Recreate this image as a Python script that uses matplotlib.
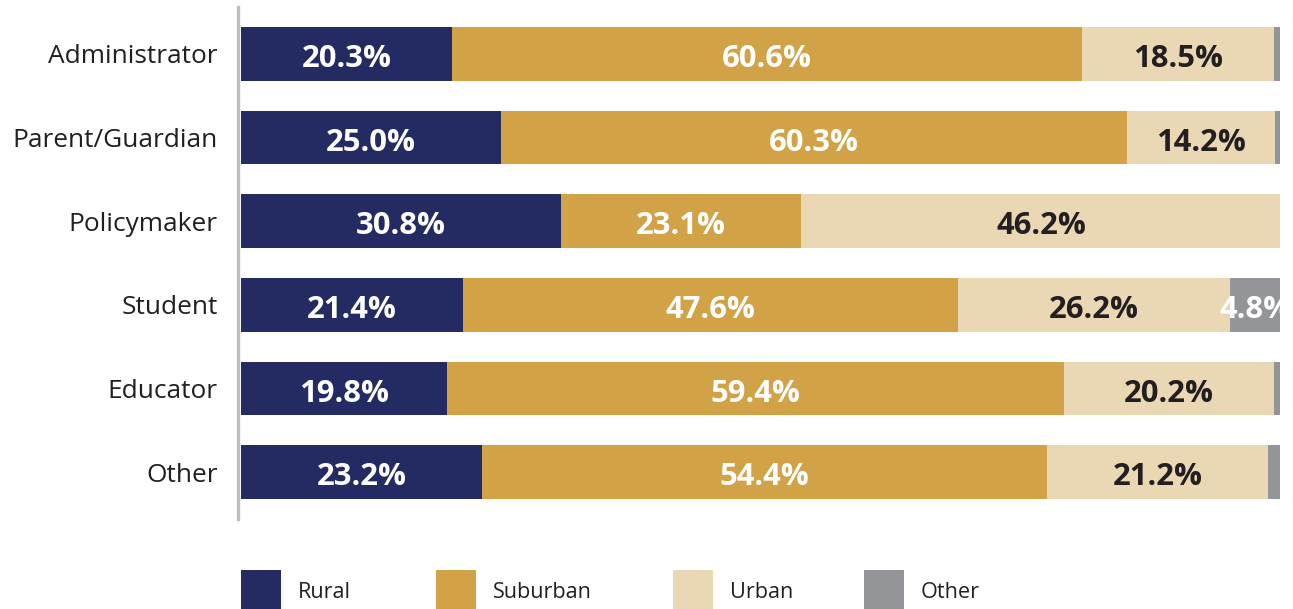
import matplotlib
matplotlib.use("Agg")
import matplotlib.pyplot as plt
from matplotlib.patches import Rectangle

plt.rcParams['font.family'] = ['Open Sans', 'DejaVu Sans']

categories = ["Administrator", "Parent/Guardian", "Policymaker", "Student", "Educator", "Other"]
series_names = ["Rural", "Suburban", "Urban", "Other"]
rural = [20.3, 25.0, 30.8, 21.4, 19.8, 23.2]
suburban = [60.6, 60.3, 23.1, 47.6, 59.4, 54.4]
urban = [18.5, 14.2, 46.2, 26.2, 20.2, 21.2]
other = [0.6, 0.5, 0.0, 4.8, 0.6, 1.2]

colors = ["#242a62", "#d2a246", "#ead8b5", "#939598"]
text_colors = ["white", "white", "#231f20", "white"]

W, H = 1293, 609
fig = plt.figure(figsize=(W / 100, H / 100), dpi=100)
ax = fig.add_axes([238 / W, 1 - 519 / H, (1280 - 238) / W, (519 - 7) / H])

ypos = list(range(len(categories)))
left = [0.0] * len(categories)
for vals, col, tcol in zip([rural, suburban, urban, other], colors, text_colors):
    ax.barh(ypos, vals, left=left, height=0.645, color=col, edgecolor="none")
    for y, v, l in zip(ypos, vals, left):
        if v >= 2:
            # nudge down a little so the digits sit in the middle of the bar
            ax.text(l + v / 2, y + 0.06, f"{v:.1f}%", ha="center", va="center",
                    color=tcol, fontsize=22.3, fontweight="bold")
    left = [l + v for l, v in zip(left, vals)]

ax.set_xlim(-0.29, 100)
ax.set_ylim(len(categories) - 0.44, -0.56)
ax.set_yticks(ypos)
ax.set_yticklabels(categories, fontsize=18.9, color="#231f20")
ax.tick_params(axis="y", length=0, pad=14.5)
ax.set_xticks([])
for s in ["top", "right", "bottom"]:
    ax.spines[s].set_visible(False)
ax.spines["left"].set_color("#bcbdc0")
ax.spines["left"].set_linewidth(2.4)

# legend
legend_x = [241, 436, 673, 864]
for name, col, x in zip(series_names, colors, legend_x):
    fig.add_artist(Rectangle((x / W, 0), 40 / W, 39 / H, transform=fig.transFigure,
                             facecolor=col, edgecolor="none"))
    fig.text((x + 57) / W, 1 - 593 / H, name, ha="left", va="center",
             fontsize=15.6, color="#231f20")

fig.savefig("out.png", dpi=100)
